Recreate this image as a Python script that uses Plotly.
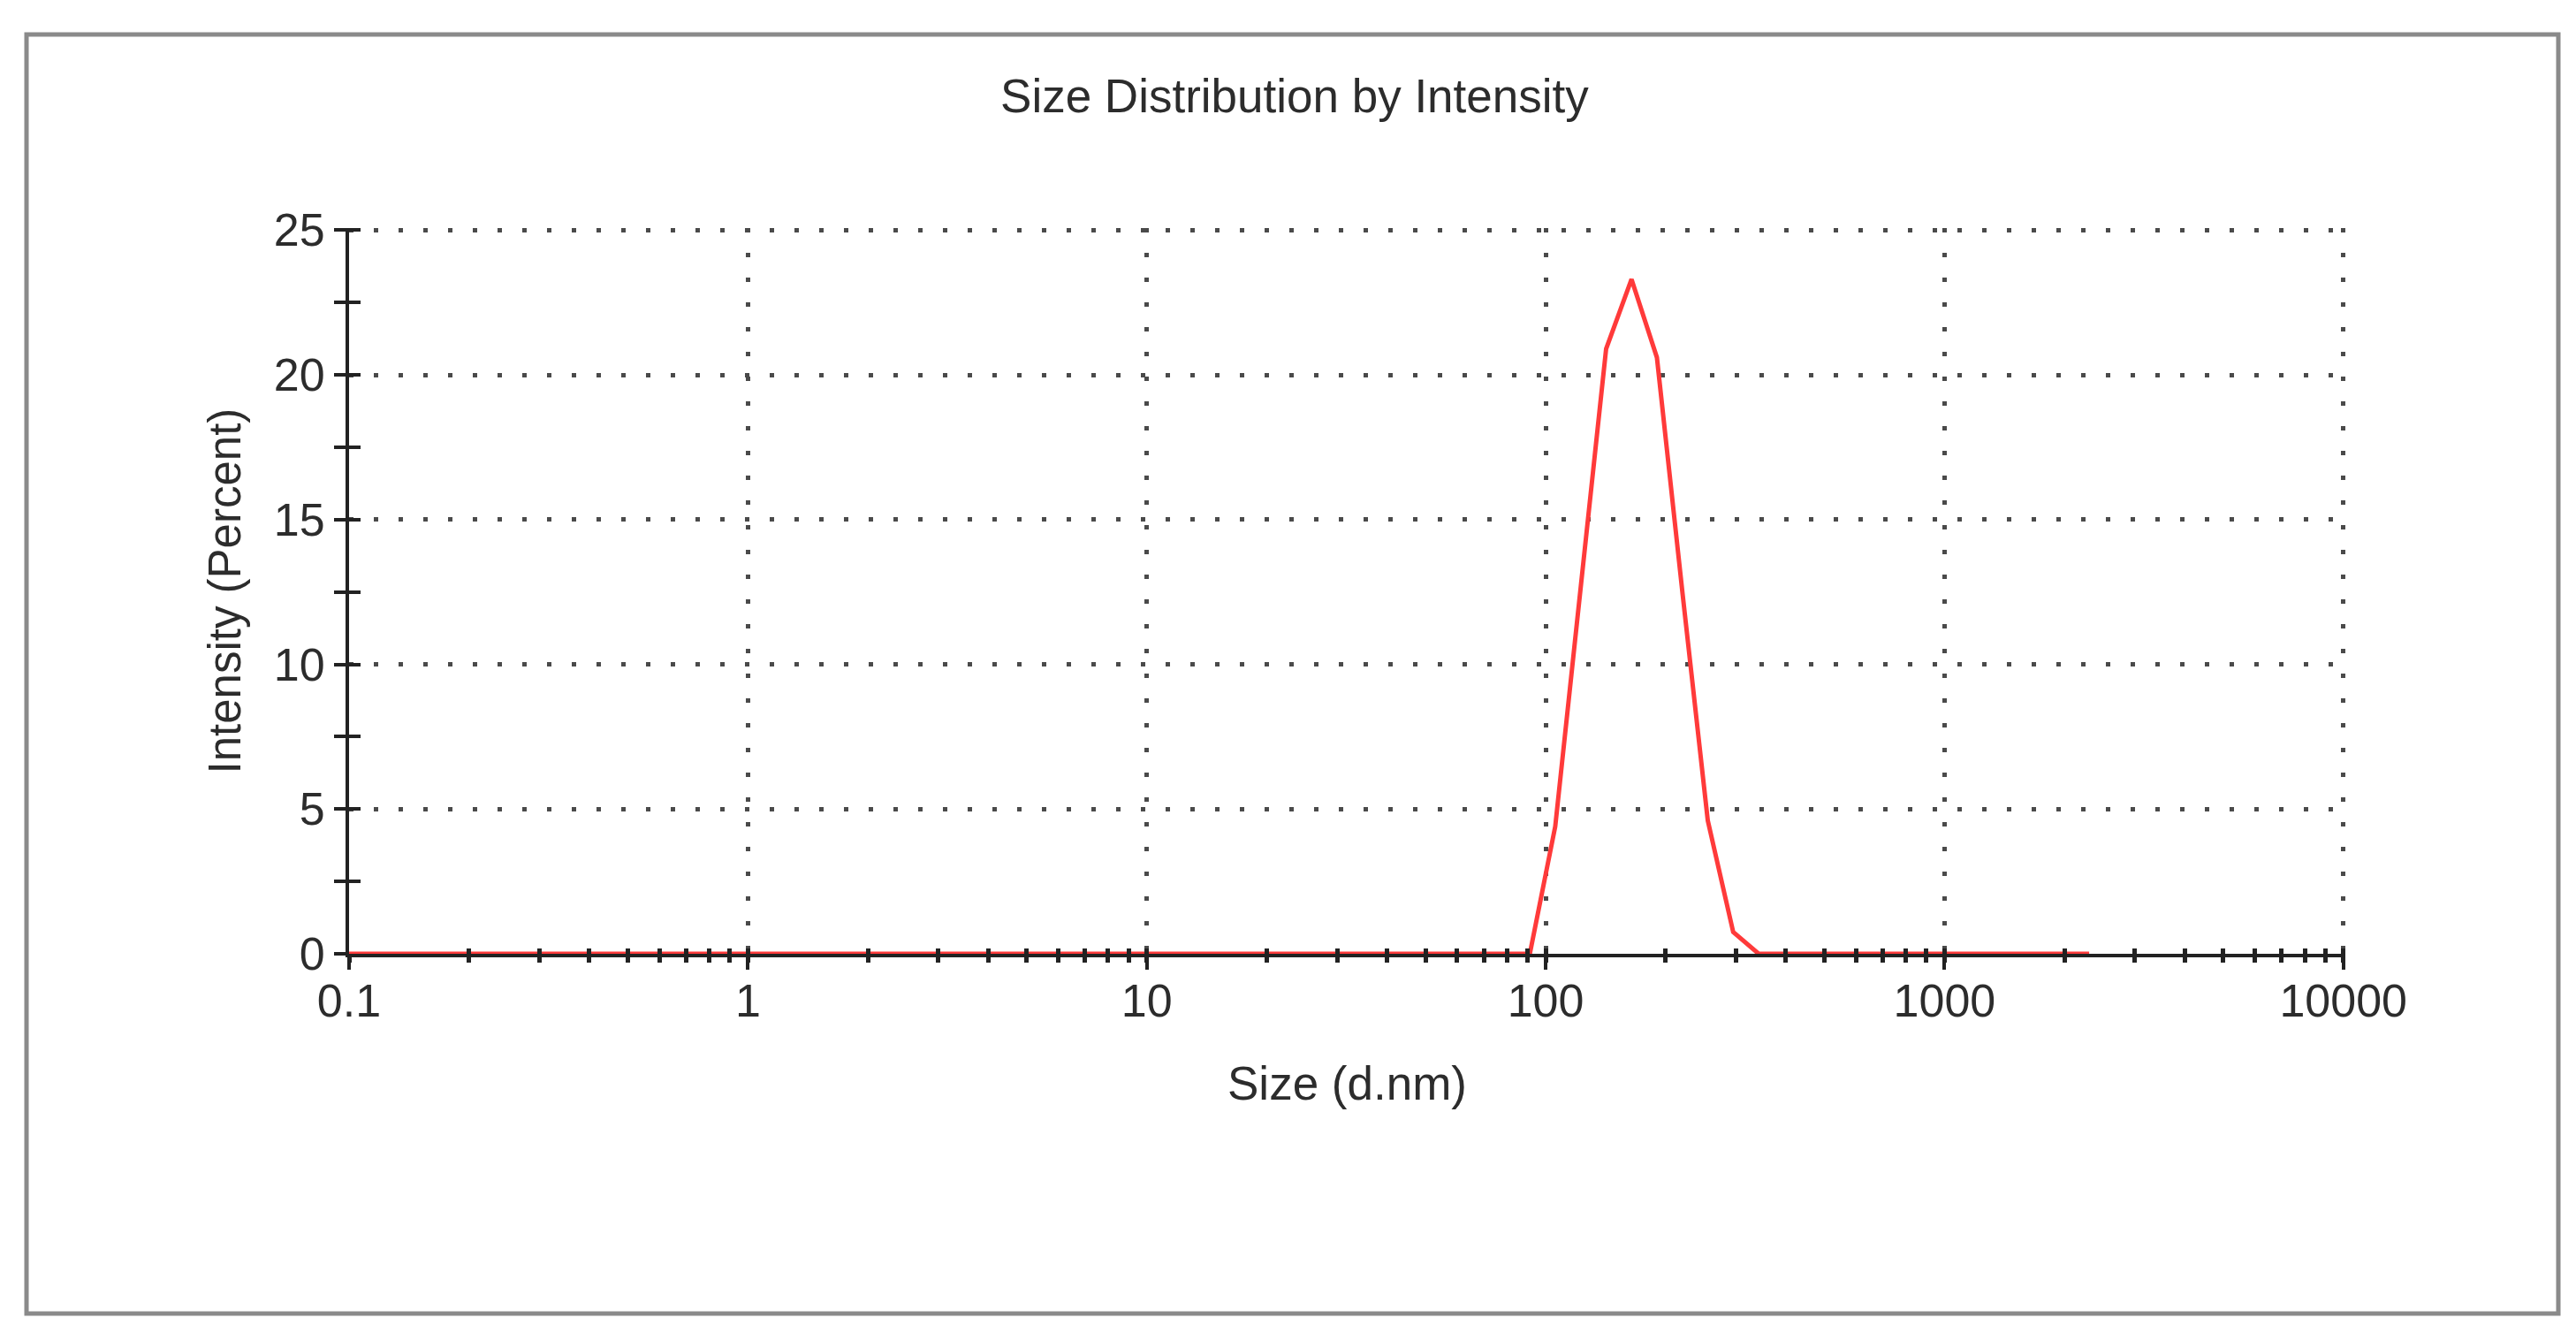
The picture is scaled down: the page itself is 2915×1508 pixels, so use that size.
import plotly.graph_objects as go

# 粒径分布数据 (Size Distribution by Intensity)
sizes = [0.1, 0.4, 0.4632, 0.5365, 0.6213, 0.7195, 0.8332, 0.9649, 1.117, 1.294,
         1.499, 1.736, 2.010, 2.328, 2.696, 3.122, 3.615, 4.187, 4.849, 5.615,
         6.503, 7.531, 8.721, 10.10, 11.70, 13.54, 15.69, 18.17, 21.04, 24.36,
         28.21, 32.67, 37.84, 43.82, 50.75, 58.77, 68.06, 78.82, 91.28, 105.7,
         122.4, 141.8, 164.2, 190.1, 220.2, 255.0, 295.3, 342.0, 396.1, 458.7,
         531.2, 615.1, 712.4, 825.0, 955.4, 1106, 1281, 1484, 1718, 1990,
         2305]
intensity = [0, 0, 0, 0, 0, 0, 0, 0, 0, 0,
             0, 0, 0, 0, 0, 0, 0, 0, 0, 0,
             0, 0, 0, 0, 0, 0, 0, 0, 0, 0,
             0, 0, 0, 0, 0, 0, 0, 0, 0, 4.4,
             12.6, 20.9, 23.3, 20.6, 12.5, 4.6, 0.75, 0, 0, 0,
             0, 0, 0, 0, 0, 0, 0, 0, 0, 0,
             0]

x_ticks = [0.1, 1, 10, 100, 1000, 10000]
x_labels = ['0.1', '1', '10', '100', '1000', '10000']
y_ticks = [0, 5, 10, 15, 20, 25]

title = 'Size Distribution by Intensity'
x_title = 'Size (d.nm)'
y_title = 'Intensity (Percent)'

FONT = 'Liberation Sans, Arial, sans-serif'
TXT = '#2c2c2c'
GRID = '#4a4a4a'
AXIS = '#222222'
DOTS = '5px,23px'

# 范围稍微放宽一点, 这样 25 和 10000 处的网格线也能画出来
x_range = [-1, 4.005]
y_range = [0, 25.07]

fig = go.Figure()
fig.add_trace(go.Scatter(
    x=sizes, y=intensity, mode='lines',
    line=dict(color='#ff3a3a', width=5),
    showlegend=False, hoverinfo='x+y',
))
# 透明的副本, 只是为了让叠加坐标轴画出内侧刻度
fig.add_trace(go.Scatter(
    x=sizes, y=intensity, mode='lines', xaxis='x2', yaxis='y2',
    line=dict(color='rgba(0,0,0,0)', width=0),
    showlegend=False, hoverinfo='skip',
))

fig.update_layout(
    width=2915, height=1508,
    margin=dict(l=387, r=269, t=250, b=437),
    paper_bgcolor='white', plot_bgcolor='white',
    font=dict(family=FONT, size=52, color=TXT),
    title=dict(text=title, x=0.4998, y=1 - 100 / 1508, xref='container', yref='container',
               xanchor='center', yanchor='middle', font=dict(size=53, color=TXT)),
    xaxis=dict(
        type='log', range=x_range,
        tickmode='array', tickvals=x_ticks, ticktext=x_labels,
        ticks='outside', ticklen=14, tickwidth=4, tickcolor=AXIS,
        minor=dict(dtick='D1', ticks='outside', ticklen=6, tickwidth=5, tickcolor=AXIS),
        showline=True, linecolor=AXIS, linewidth=4,
        showgrid=True, gridcolor=GRID, gridwidth=5, griddash=DOTS,
        zeroline=False, tickfont=dict(size=52, color=TXT),
        ticklabelstandoff=-9,
    ),
    yaxis=dict(
        range=y_range,
        tickmode='array', tickvals=y_ticks,
        ticks='outside', ticklen=13, tickwidth=4, tickcolor=AXIS,
        minor=dict(dtick=2.5, ticks='outside', ticklen=13, tickwidth=4, tickcolor=AXIS),
        showline=True, linecolor=AXIS, linewidth=4,
        showgrid=True, gridcolor=GRID, gridwidth=5, griddash=DOTS,
        zeroline=False, tickfont=dict(size=52, color=TXT),
    ),
    xaxis2=dict(
        type='log', range=x_range, overlaying='x', anchor='y2', side='bottom',
        tickmode='array', tickvals=x_ticks, showticklabels=False,
        ticks='inside', ticklen=6, tickwidth=5, tickcolor=AXIS,
        minor=dict(dtick='D1', ticks='inside', ticklen=6, tickwidth=5, tickcolor=AXIS),
        showline=False, showgrid=False, zeroline=False,
    ),
    yaxis2=dict(
        range=y_range, overlaying='y', anchor='x2', side='left',
        tickmode='array', tickvals=y_ticks, showticklabels=False,
        ticks='inside', ticklen=13, tickwidth=4, tickcolor=AXIS,
        minor=dict(dtick=2.5, ticks='inside', ticklen=13, tickwidth=4, tickcolor=AXIS),
        showline=False, showgrid=False, zeroline=False,
    ),
    annotations=[
        dict(text=x_title, x=0.5, y=(1071 - 1217) / 821, xref='paper', yref='paper',
             xanchor='center', yanchor='middle', showarrow=False,
             font=dict(size=53, color=TXT)),
        dict(text=y_title, x=(246 - 387) / 2259, y=0.5, xref='paper', yref='paper',
             xanchor='center', yanchor='middle', textangle=-90, showarrow=False,
             font=dict(size=51, color=TXT)),
    ],
    shapes=[
        dict(type='rect', xref='paper', yref='paper',
             x0=(22 - 387) / 2259, x1=(2887 - 387) / 2259,
             y0=(1071 - 1478) / 821, y1=(1071 - 31) / 821,
             line=dict(color='#8a8a8a', width=5), layer='below'),
    ],
)

fig.write_html('out.html')
